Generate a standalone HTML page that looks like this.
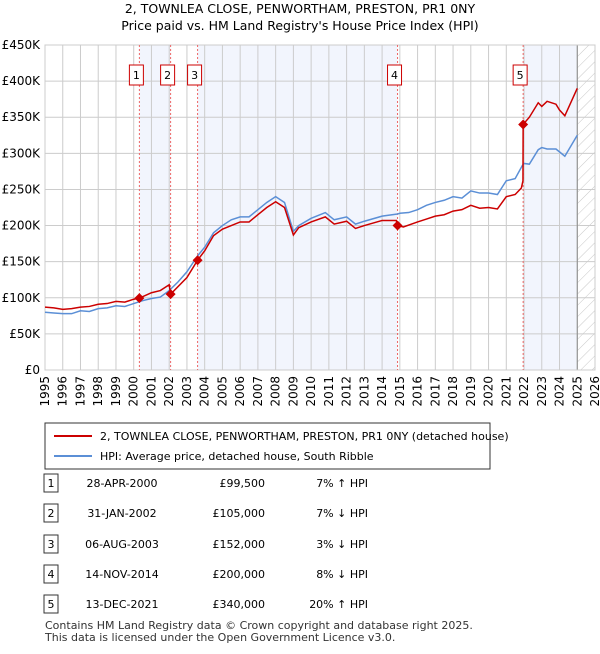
<!DOCTYPE html>
<html><head><meta charset="utf-8"><style>
body{margin:0;background:#fff;font-family:"DejaVu Sans","Liberation Sans",sans-serif;}
svg text{font-family:"DejaVu Sans","Liberation Sans",sans-serif;}
</style></head><body>
<svg id="c" width="600" height="650" xmlns="http://www.w3.org/2000/svg">
<defs><pattern id="hatch" width="8" height="8" patternUnits="userSpaceOnUse" patternTransform="rotate(45)"><line x1="0" y1="0" x2="0" y2="8" stroke="#c8c8c8" stroke-width="1"/></pattern></defs>
<text x="300" y="13" text-anchor="middle" font-size="12.5">2, TOWNLEA CLOSE, PENWORTHAM, PRESTON, PR1 0NY</text>
<text x="300" y="30" text-anchor="middle" font-size="12.5">Price paid vs. HM Land Registry's House Price Index (HPI)</text>
<g id="plot"></g>
<g>
<rect x="45" y="423" width="445" height="46" fill="#fff" stroke="#333"/>
<line x1="54" y1="436" x2="92" y2="436" stroke="#cc0000" stroke-width="2"/>
<text x="100" y="440" font-size="11">2, TOWNLEA CLOSE, PENWORTHAM, PRESTON, PR1 0NY (detached house)</text>
<line x1="54" y1="456" x2="92" y2="456" stroke="#5b8fd6" stroke-width="2"/>
<text x="100" y="460" font-size="11">HPI: Average price, detached house, South Ribble</text>
</g>
<g id="tbl" font-size="11"></g>
<text x="45" y="629" font-size="11" fill="#333">Contains HM Land Registry data © Crown copyright and database right 2025.</text>
<text x="45" y="641" font-size="11" fill="#333">This data is licensed under the Open Government Licence v3.0.</text>
</svg>
<script>
const hpiYears=[1995,1995.5,1996,1996.5,1997,1997.5,1998,1998.5,1999,1999.5,2000,2000.5,2001,2001.5,2002,2002.5,2003,2003.6,2004,2004.5,2005,2005.5,2006,2006.5,2007,2007.5,2008,2008.5,2009,2009.3,2010,2010.8,2011.3,2012,2012.5,2013,2014,2014.87,2015,2015.5,2016,2016.5,2017,2017.5,2018,2018.5,2019,2019.5,2020,2020.5,2021,2021.5,2021.9,2022,2022.3,2022.8,2023,2023.3,2023.8,2024,2024.3,2025];
const hpiValues=[80,79,78,78,82,81,85,86,89,88,92,96,99,101,110,122,136,158,170,190,200,208,212,212,222,232,240,232,192,200,210,218,208,212,202,206,213,216,217,218,222,228,232,235,240,238,248,245,245,243,262,265,283,286,285,305,308,306,306,302,296,325];
const ppYears=[1995,1995.5,1996,1996.5,1997,1997.5,1998,1998.5,1999,1999.5,2000,2000.32,2001,2001.5,2002,2002.08,2003,2003.6,2004,2004.5,2005,2005.5,2006,2006.5,2007,2007.5,2008,2008.5,2009,2009.3,2010,2010.8,2011.3,2012,2012.5,2013,2014,2014.8,2014.87,2015.2,2016,2016.5,2017,2017.5,2018,2018.5,2019,2019.5,2020,2020.5,2021,2021.5,2021.85,2021.94,2021.95,2022.3,2022.8,2023,2023.3,2023.8,2024,2024.3,2025];
const ppValues=[87,86,84,85,87,88,91,92,95,94,98,99.5,107,110,118,105,128,152,165,186,195,200,205,205,215,225,233,225,187,197,205,212,202,206,196,200,207,207,200,198,205,209,213,215,220,222,228,224,225,223,240,243,252,262,340,350,370,365,372,368,360,352,390];
const saleYears=[2000.32,2002.08,2003.6,2014.87,2021.95];
const salePrices=[99.5,105,152,200,340];
const saleLabels=["1","2","3","4","5"];
const saleDates=["28-APR-2000","31-JAN-2002","06-AUG-2003","14-NOV-2014","13-DEC-2021"];
const salePriceText=["£99,500","£105,000","£152,000","£200,000","£340,000"];
const saleHpiText=["7% ↑ HPI","7% ↓ HPI","3% ↓ HPI","8% ↓ HPI","20% ↑ HPI"];
const yTicks=[0,50,100,150,200,250,300,350,400,450];
const yTickLabels=["£0","£50K","£100K","£150K","£200K","£250K","£300K","£350K","£400K","£450K"];
const xTicks=[1995,1996,1997,1998,1999,2000,2001,2002,2003,2004,2005,2006,2007,2008,2009,2010,2011,2012,2013,2014,2015,2016,2017,2018,2019,2020,2021,2022,2023,2024,2025,2026];
const X0=45,X1=595,Y0=370,Y1=45;
const xs=v=>X0+(v-1995)/31*(X1-X0);
const ys=v=>Y0-v/450*(Y0-Y1);
const NS="http://www.w3.org/2000/svg";
const plot=document.getElementById('plot');
function mk(tag,attrs,parent){const e=document.createElementNS(NS,tag);for(const k in attrs)e.setAttribute(k,attrs[k]);(parent||plot).appendChild(e);return e;}
const shades=[[0,1],[2,3],[4,null]];
shades.forEach(s=>{const a=xs(saleYears[s[0]]),b=s[1]===null?xs(2025):xs(saleYears[s[1]]);
const r=mk('rect',{x:a,y:Y1,width:b-a,height:Y0-Y1,fill:'#f2f5fd'});

});
const h=mk('rect',{x:xs(2025),y:Y1,width:X1-xs(2025),height:Y0-Y1,fill:'url(#hatch)'});


xTicks.forEach(t=>{const l=mk('line',{x1:xs(t),x2:xs(t),y1:Y1,y2:Y0,stroke:'#ccc'});


const tx=mk('text',{x:0,y:0,'font-size':12,'text-anchor':'end',transform:`translate(${xs(t)+4},${Y0+6}) rotate(-90)`});tx.textContent=t;

});
yTicks.forEach((t,i)=>{const l=mk('line',{x1:X0,x2:X1,y1:ys(t),y2:ys(t),stroke:'#ccc'});


const tx=mk('text',{x:X0-5,y:ys(t)+4,'font-size':12,'text-anchor':'end'});tx.textContent=yTickLabels[i];

});
const vl=mk('line',{x1:xs(2025),x2:xs(2025),y1:Y1,y2:Y0,stroke:'#888'});


const fr=mk('rect',{x:X0,y:Y1,width:X1-X0,height:Y0-Y1,fill:'none',stroke:'#ccc'});


saleYears.forEach((y,i)=>{const l=mk('line',{x1:xs(y),x2:xs(y),y1:Y1,y2:Y0,stroke:'#ee6666','stroke-dasharray':'2,2','stroke-width':1});

});
const hp=mk('polyline',{points:hpiYears.map((y,i)=>xs(y)+','+ys(hpiValues[i])).join(' '),fill:'none',stroke:'#5b8fd6','stroke-width':1.5});


const pp=mk('polyline',{points:ppYears.map((y,i)=>xs(y)+','+ys(ppValues[i])).join(' '),fill:'none',stroke:'#cc0000','stroke-width':1.5});


saleYears.forEach((y,i)=>{const cx=xs(y),cy=ys(salePrices[i]);
const d=mk('polygon',{points:`${cx},${cy-5} ${cx+5},${cy} ${cx},${cy+5} ${cx-5},${cy}`,fill:'#cc0000'});


const g=mk('g',{});


mk('rect',{x:cx-10,y:65,width:14,height:20,fill:'#fff',stroke:'#cc0000'},g);
const t=mk('text',{x:cx-3,y:79,'font-size':11,'text-anchor':'middle'},g);t.textContent=saleLabels[i];});
const tbl=document.getElementById('tbl');
const rowY=[483,513,544,574,604];
saleLabels.forEach((s,i)=>{const g=mk('g',{},tbl);


mk('rect',{x:44,y:rowY[i]-9,width:14,height:18,fill:'#fff',stroke:'#333'},g);
const a=mk('text',{x:51,y:rowY[i]+4,'text-anchor':'middle'},g);a.textContent=s;
const b=mk('text',{x:122,y:rowY[i]+4,'text-anchor':'middle'},g);b.textContent=saleDates[i];
const c=mk('text',{x:265,y:rowY[i]+4,'text-anchor':'end'},g);c.textContent=salePriceText[i];
const e=mk('text',{x:368,y:rowY[i]+4,'text-anchor':'end'},g);e.textContent=saleHpiText[i];});
</script>
</body></html>
